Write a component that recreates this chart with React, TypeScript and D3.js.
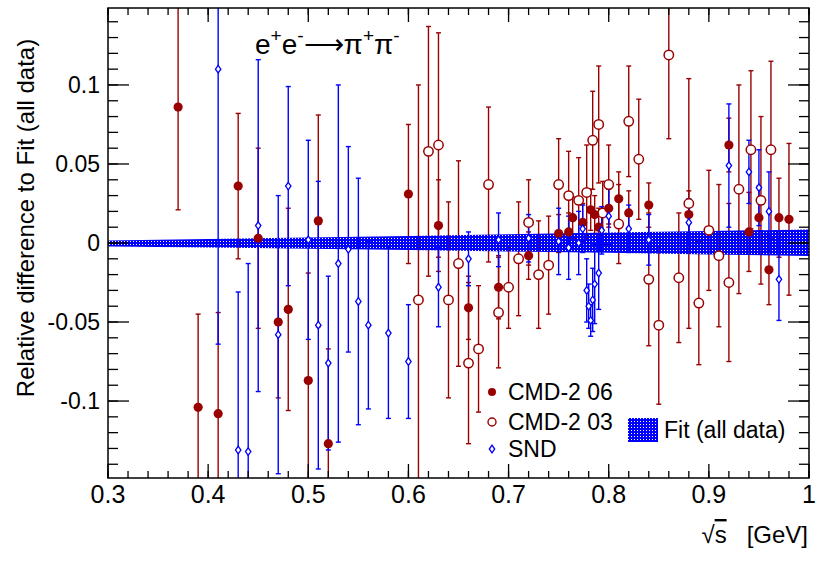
import * as React from "react";
import * as d3 from "d3";

// CMD-2 06 (filled circles)
const cmd06X = [0.37, 0.39, 0.41, 0.43, 0.45, 0.47, 0.48, 0.50, 0.51, 0.52, 0.60, 0.63, 0.66, 0.69, 0.72, 0.75, 0.76, 0.764, 0.774, 0.782, 0.786, 0.79, 0.80, 0.81, 0.82, 0.84, 0.88, 0.92, 0.94, 0.95, 0.96, 0.97, 0.98];
const cmd06Y = [0.086, -0.104, -0.108, 0.036, 0.003, -0.050, -0.042, -0.087, 0.014, -0.127, 0.031, 0.011, -0.041, -0.028, -0.008, 0.006, 0.007, 0.016, 0.013, 0.021, 0.018, 0.010, 0.022, 0.028, 0.019, 0.024, 0.018, 0.062, 0.007, 0.016, -0.017, 0.016, 0.015];
const cmd06E = [0.065, 0.059, 0.064, 0.046, 0.057, 0.048, 0.064, 0.068, 0.067, 0.060, 0.044, 0.029, 0.020, 0.020, 0.015, 0.012, 0.012, 0.013, 0.012, 0.013, 0.012, 0.012, 0.012, 0.017, 0.014, 0.014, 0.015, 0.017, 0.025, 0.020, 0.022, 0.025, 0.048];

// CMD-2 03 (open circles)
const cmd03X = [0.61, 0.62, 0.63, 0.64, 0.65, 0.66, 0.67, 0.68, 0.69, 0.70, 0.71, 0.72, 0.73, 0.74, 0.75, 0.76, 0.77, 0.778, 0.784, 0.79, 0.794, 0.80, 0.81, 0.82, 0.83, 0.84, 0.85, 0.86, 0.87, 0.88, 0.89, 0.90, 0.91, 0.92, 0.93, 0.942, 0.952, 0.962];
const cmd03Y = [-0.036, 0.058, 0.062, -0.036, -0.013, -0.076, -0.067, 0.037, -0.044, -0.028, -0.010, 0.013, -0.020, -0.014, 0.037, 0.030, 0.027, 0.032, 0.065, 0.075, 0.019, 0.037, 0.012, 0.077, 0.053, -0.023, -0.052, 0.119, -0.022, 0.025, -0.038, 0.008, -0.008, -0.025, 0.034, 0.059, 0.027, 0.059];
const cmd03E = [0.136, 0.079, 0.071, 0.062, 0.065, 0.051, 0.040, 0.049, 0.035, 0.026, 0.036, 0.027, 0.034, 0.031, 0.029, 0.028, 0.027, 0.030, 0.031, 0.037, 0.020, 0.025, 0.025, 0.035, 0.038, 0.042, 0.050, 0.053, 0.041, 0.079, 0.039, 0.038, 0.045, 0.050, 0.066, 0.050, 0.053, 0.056];

// SND (open diamonds)
const sndX = [0.41, 0.43, 0.44, 0.45, 0.47, 0.48, 0.50, 0.51, 0.52, 0.53, 0.54, 0.55, 0.56, 0.58, 0.60, 0.63, 0.66, 0.69, 0.72, 0.75, 0.76, 0.77, 0.774, 0.778, 0.780, 0.782, 0.784, 0.786, 0.79, 0.793, 0.80, 0.82, 0.84, 0.88, 0.92, 0.94, 0.95, 0.96, 0.97];
const sndY = [0.110, -0.131, -0.132, 0.011, -0.058, 0.036, 0.002, -0.052, -0.076, -0.013, -0.004, -0.037, -0.052, -0.057, -0.075, -0.028, -0.010, 0.002, 0.003, 0.001, -0.003, 0.000, 0.009, -0.030, -0.040, -0.049, -0.036, -0.026, -0.019, 0.008, 0.017, 0.009, 0.002, 0.013, 0.049, 0.045, 0.035, 0.020, -0.023];
const sndE = [0.174, 0.100, 0.119, 0.105, 0.088, 0.063, 0.063, 0.091, 0.055, 0.113, 0.065, 0.078, 0.053, 0.054, 0.036, 0.025, 0.017, 0.017, 0.015, 0.021, 0.020, 0.020, 0.015, 0.020, 0.014, 0.010, 0.020, 0.025, 0.023, 0.015, 0.018, 0.015, 0.016, 0.015, 0.039, 0.020, 0.024, 0.025, 0.026];

// fit error band
const fitX = [0.3, 0.4, 0.5, 0.6, 0.7, 0.8, 0.9, 1.0];
const fitHi = [0.0016, 0.0025, 0.0035, 0.0045, 0.0055, 0.0066, 0.0076, 0.0086];
const fitLo = [-0.0022, -0.0029, -0.0036, -0.0045, -0.0053, -0.0062, -0.0072, -0.0082];

const xTickValues = [0.3, 0.4, 0.5, 0.6, 0.7, 0.8, 0.9, 1.0];
const xTickLabels = ["0.3", "0.4", "0.5", "0.6", "0.7", "0.8", "0.9", "1"];
const yTickValues = [-0.1, -0.05, 0, 0.05, 0.1];
const yTickLabels = ["-0.1", "-0.05", "0", "0.05", "0.1"];

const FONT = "'Liberation Sans', Arial, Helvetica, sans-serif";
const RED = "#990000";
const BLUE = "#0000ff";

export default function App() {
  const W = 830, H = 563;
  const L = 108, R = 809, T = 8, B = 478;

  const x = d3.scaleLinear().domain([0.3, 1.0]).range([L, R]);
  const y = d3.scaleLinear().domain([-0.1487, 0.1487]).range([B, T]);
  const [yMin, yMax] = y.domain();

  const xMinor = d3.range(0, 36).map((i) => 0.3 + i * 0.02);
  const yMinor = d3.range(-14, 15).map((i) => i * 0.01);

  const band = d3.area<number>()
    .x((d, i) => x(fitX[i]))
    .y0((d, i) => y(fitLo[i]))
    .y1((d, i) => y(fitHi[i]));

  const errBars = (xs: number[], ys: number[], es: number[], color: string, key: string) =>
    xs.map((xv, i) => {
      const px = x(xv);
      const hi = ys[i] + es[i];
      const lo = ys[i] - es[i];
      return (
        <g key={key + i} stroke={color} strokeWidth={1.4}>
          <line x1={px} x2={px} y1={y(Math.min(hi, yMax + 0.01))} y2={y(Math.max(lo, yMin - 0.01))} />
          {hi < yMax && <line x1={px - 2.5} x2={px + 2.5} y1={y(hi)} y2={y(hi)} />}
          {lo > yMin && <line x1={px - 2.5} x2={px + 2.5} y1={y(lo)} y2={y(lo)} />}
        </g>
      );
    });

  const diamond = "M0,-3.8L2.7,0L0,3.8L-2.7,0Z";

  return (
    <svg width={W} height={H} style={{ position: "absolute", left: 0, top: 0, background: "#fff" }} fontFamily={FONT}>
      <defs>
        <clipPath id="frame">
          <rect x={L} y={T} width={R - L} height={B - T} />
        </clipPath>
        <pattern id="dots" width={3} height={3} patternUnits="userSpaceOnUse">
          <path d="M0,0H3V3H0Z M1,1V2H2V1Z" fill={BLUE} fillRule="evenodd" />
        </pattern>
      </defs>
      <rect x={0} y={0} width={W} height={H} fill="#fff" />

      <g clipPath="url(#frame)">
        {errBars(cmd03X, cmd03Y, cmd03E, RED, "e03")}
        {errBars(cmd06X, cmd06Y, cmd06E, RED, "e06")}
        {errBars(sndX, sndY, sndE, BLUE, "esnd")}
        <path d={band(fitX) || ""} fill="url(#dots)" />
        {cmd03X.map((xv, i) => (
          <circle key={"m03" + i} cx={x(xv)} cy={y(cmd03Y[i])} r={4.7} fill="#fff" stroke={RED} strokeWidth={1.5} />
        ))}
        {cmd06X.map((xv, i) => (
          <circle key={"m06" + i} cx={x(xv)} cy={y(cmd06Y[i])} r={4.6} fill={RED} />
        ))}
        {sndX.map((xv, i) => (
          <path key={"msnd" + i} d={diamond} transform={`translate(${x(xv)},${y(sndY[i])})`} fill="#fff" stroke={BLUE} strokeWidth={1.3} />
        ))}
      </g>

      {/* frame and ticks */}
      <rect x={L} y={T} width={R - L} height={B - T} fill="none" stroke="#000" strokeWidth={1.5} />
      <g stroke="#000" strokeWidth={1.3}>
        {xMinor.map((v, i) => (
          <g key={"xm" + i}>
            <line x1={x(v)} x2={x(v)} y1={B} y2={B - 7} />
            <line x1={x(v)} x2={x(v)} y1={T} y2={T + 7} />
          </g>
        ))}
        {xTickValues.map((v, i) => (
          <g key={"xM" + i}>
            <line x1={x(v)} x2={x(v)} y1={B} y2={B - 14} />
            <line x1={x(v)} x2={x(v)} y1={T} y2={T + 14} />
          </g>
        ))}
        {yMinor.map((v, i) => (
          <g key={"ym" + i}>
            <line x1={L} x2={L + 10} y1={y(v)} y2={y(v)} />
            <line x1={R} x2={R - 10} y1={y(v)} y2={y(v)} />
          </g>
        ))}
        {yTickValues.map((v, i) => (
          <g key={"yM" + i}>
            <line x1={L} x2={L + 21} y1={y(v)} y2={y(v)} />
            <line x1={R} x2={R - 21} y1={y(v)} y2={y(v)} />
          </g>
        ))}
      </g>

      {xTickValues.map((v, i) => (
        <text key={"xl" + i} x={x(v)} y={503} fontSize={25} textAnchor="middle">{xTickLabels[i]}</text>
      ))}
      {yTickValues.map((v, i) => (
        <text key={"yl" + i} x={100} y={y(v) + 8} fontSize={23} textAnchor="end">{yTickLabels[i]}</text>
      ))}

      <text transform="translate(34,218) rotate(-90)" fontSize={24} textAnchor="middle">
        Relative difference to Fit (all data)
      </text>

      <text x={808} y={543} fontSize={24} textAnchor="end" style={{ whiteSpace: "pre" }}>
        √<tspan style={{ textDecoration: "overline" }}>s</tspan>{"   [GeV]"}
      </text>

      <text x={255} y={54} fontSize={28}>
        e<tspan fontSize={19} dy={-12}>+</tspan>
        <tspan dy={12}>e</tspan><tspan fontSize={19} dy={-12}>-</tspan>
        <tspan dy={12}>⟶</tspan><tspan>π</tspan><tspan fontSize={19} dy={-12}>+</tspan>
        <tspan dy={12}>π</tspan><tspan fontSize={19} dy={-12}>-</tspan>
      </text>

      {/* legend */}
      <circle cx={492} cy={392} r={4} fill={RED} />
      <text x={508} y={400} fontSize={23}>CMD-2 06</text>
      <circle cx={492} cy={422} r={4} fill="#fff" stroke={RED} strokeWidth={1.4} />
      <text x={508} y={430} fontSize={23}>CMD-2 03</text>
      <path d={diamond} transform="translate(492,449)" fill="#fff" stroke={BLUE} strokeWidth={1.3} />
      <text x={508} y={457} fontSize={23}>SND</text>
      <rect x={628} y={418} width={30} height={24} fill="url(#dots)" />
      <text x={664} y={438} fontSize={23}>Fit (all data)</text>
    </svg>
  );
}
